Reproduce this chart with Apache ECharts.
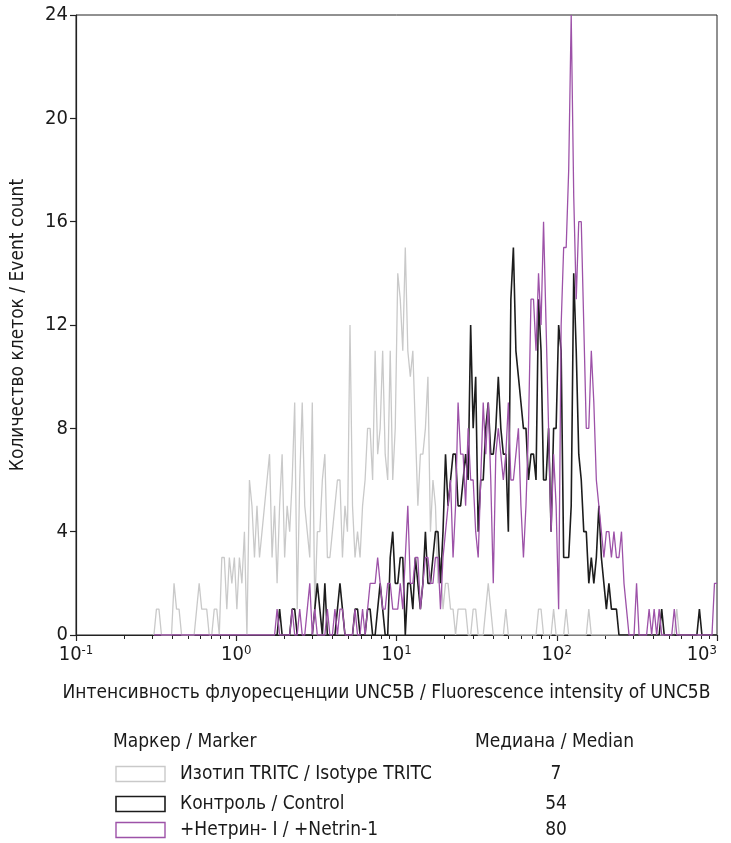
<!DOCTYPE html>
<html>
<head>
<meta charset="utf-8">
<script src="https://cdn.jsdelivr.net/npm/echarts@6/dist/echarts.min.js"></script>
<style>
  html, body { margin: 0; padding: 0; background: #fff; }
  #chart { width: 731px; height: 843px; }
</style>
</head>
<body>
<div id="chart"></div>
<script>
// Flow cytometry histograms of UNC5B staining: 256 log-spaced channels over 10^-1 .. 10^3.
const FONT = "'Liberation Sans Narrow', 'Arial Narrow', 'DejaVu Sans Condensed', sans-serif";

const channelCount = 256;
const decades = [0.1, 1, 10, 100, 1000];
const decadeExponents = ['-1', '0', '1', '2', '3'];
const minorMultipliers = [2, 3, 4, 5, 6, 7, 8, 9];
const yMax = 24;
const yStep = 4;

const seriesNames = ['Изотип TRITC / Isotype TRITC', 'Контроль / Control', '+Нетрин- I / +Netrin-1'];
const seriesColors = ['#c9c9c9', '#1c1c1c', '#9d52a8'];
const medians = [7, 54, 80];

// Event counts per channel; each list starts at its own first channel.
const isotypeStart = 31;
const isotypeCounts = [
  0,
  1, 1, 0, 0, 0, 0, 0, 2, 1, 1, 0, 0, 0, 0, 0, 0,
  1, 2, 1, 1, 1, 0, 0, 1, 1, 0, 3, 3, 1, 3, 2, 3,
  1, 3, 2, 4, 0, 6, 5, 3, 5, 3, 4, 5, 6, 7, 3, 5,
  2, 5, 7, 3, 5, 4, 6, 9, 1, 6, 9, 5, 4, 3, 9, 1,
  4, 4, 6, 7, 3, 3, 4, 5, 6, 6, 3, 5, 4, 12, 5, 3,
  4, 3, 5, 6, 8, 8, 6, 11, 7, 8, 11, 7, 6, 11, 6, 8,
  14, 13, 11, 15, 11, 10, 11, 8, 5, 7, 7, 8, 10, 4, 6, 5,
  2, 3, 1, 2, 2, 1, 1, 0, 1, 1, 1, 1, 0, 0, 1, 1,
  0, 0, 0, 1, 2, 1, 0, 0, 0, 0, 0, 1, 0, 0, 0, 0,
  0, 0, 0, 0, 0, 0, 0, 0, 1, 1, 0, 0, 0, 0, 1, 0,
  0, 0, 0, 1, 0, 0, 0, 0, 0, 0, 0, 0, 1, 0, 0, 0,
  0, 0, 0, 0, 0, 0, 0, 0, 0, 0, 0, 0, 0, 0, 0, 0,
  0, 0, 0, 0, 0, 0, 0, 0, 0, 0, 0, 0, 0, 0, 0, 1,
  0, 0, 0, 0, 0, 0, 0, 0, 0, 0, 0, 0, 0, 0, 0, 0
];

const controlStart = 79;
const controlCounts = [
  0,
  0, 1, 0, 0, 0, 0, 1, 1, 0, 0, 0, 0, 0, 0, 0, 1,
  2, 1, 0, 2, 0, 0, 0, 0, 1, 2, 1, 0, 0, 0, 0, 1,
  1, 0, 0, 0, 1, 1, 0, 0, 1, 2, 1, 0, 0, 3, 4, 2,
  2, 3, 3, 0, 2, 2, 1, 3, 2, 1, 2, 4, 2, 2, 3, 4,
  4, 2, 4, 7, 5, 6, 7, 7, 5, 5, 6, 7, 6, 12, 8, 10,
  4, 6, 6, 8, 9, 7, 7, 8, 10, 8, 7, 7, 4, 13, 15, 11,
  10, 9, 8, 8, 6, 7, 7, 6, 13, 11, 6, 6, 8, 4, 8, 8,
  12, 11, 3, 3, 3, 5, 14, 11, 7, 6, 4, 4, 2, 3, 2, 3,
  5, 3, 2, 1, 2, 1, 1, 1, 0, 0, 0, 0, 0, 0, 0, 0,
  0, 0, 0, 0, 0, 0, 0, 0, 0, 1, 0, 0, 0, 0, 0, 0,
  0, 0, 0, 0, 0, 0, 0, 0, 1, 0, 0, 0, 0, 0, 0, 0
];

const netrinStart = 31;
const netrinCounts = [
  0,
  0, 0, 0, 0, 0, 0, 0, 0, 0, 0, 0, 0, 0, 0, 0, 0,
  0, 0, 0, 0, 0, 0, 0, 0, 0, 0, 0, 0, 0, 0, 0, 0,
  0, 0, 0, 0, 0, 0, 0, 0, 0, 0, 0, 0, 0, 0, 0, 0,
  1, 0, 0, 0, 0, 0, 1, 0, 0, 1, 0, 0, 1, 2, 0, 1,
  0, 0, 0, 0, 1, 0, 0, 1, 0, 1, 1, 0, 0, 0, 0, 1,
  0, 0, 1, 0, 1, 2, 2, 2, 3, 2, 1, 1, 2, 2, 1, 1,
  1, 2, 1, 3, 5, 2, 2, 3, 3, 1, 2, 3, 3, 2, 2, 3,
  3, 1, 3, 4, 5, 6, 3, 5, 9, 7, 7, 5, 8, 6, 6, 4,
  3, 6, 9, 7, 9, 6, 2, 7, 8, 7, 6, 7, 9, 6, 6, 7,
  8, 5, 3, 5, 8, 13, 13, 11, 14, 12, 16, 12, 8, 4, 7, 5,
  1, 12, 15, 15, 18, 24, 17, 13, 16, 16, 12, 8, 8, 11, 9, 6,
  5, 4, 3, 4, 4, 3, 4, 3, 3, 4, 2, 1, 0, 0, 0, 2,
  0, 0, 0, 0, 1, 0, 1, 0, 1, 0, 0, 0, 0, 0, 1, 0,
  0, 0, 0, 0, 0, 0, 0, 0, 0, 0, 0, 0, 0, 0, 2, 2
];

// Channel index -> fluorescence intensity on the 4-decade log scale.
const lo = Math.log10(decades[0]);
const hi = Math.log10(decades[decades.length - 1]);
function channelValue(ch) {
  return Math.pow(10, lo + (hi - lo) * ch / (channelCount - 1));
}
function toPoints(start, counts) {
  return counts.map((c, k) => [channelValue(start + k), c]);
}

const minorTicks = [];
decades.slice(0, -1).forEach(d => minorMultipliers.forEach(m => minorTicks.push(d * m)));

const axisColor = '#222';
const chart = echarts.init(document.getElementById('chart'), null, { renderer: 'canvas' });

const superscriptLabel = v => {
  const i = decades.findIndex(d => Math.abs(d - v) / d < 1e-6);
  return i < 0 ? '' : '{b|10}{s|' + decadeExponents[i] + '}';
};

const grid = {
  left: 76, right: 14, top: 15, bottom: 208,
  outerBoundsMode: 'none', containLabel: false,
  show: true, borderColor: axisColor, borderWidth: 1, backgroundColor: 'transparent'
};

const legendTop = 744;
const rowY = [774, 804, 830];
const graphics = [
  { type: 'text', left: 113, top: legendTop - 11, style: { text: 'Маркер / Marker', font: '19px ' + FONT, fill: '#1a1a1a' } },
  { type: 'text', left: 475, top: legendTop - 11, style: { text: 'Медиана / Median', font: '19px ' + FONT, fill: '#1a1a1a' } }
];
seriesNames.forEach((name, i) => {
  graphics.push({ type: 'rect', shape: { x: 116, y: rowY[i] - 7.5, width: 49, height: 15 },
    style: { fill: '#fff', stroke: seriesColors[i], lineWidth: i === 1 ? 1.6 : 1.4 } });
  graphics.push({ type: 'text', x: 180, y: rowY[i], style: { text: name, font: '19px ' + FONT, fill: '#1a1a1a', verticalAlign: 'middle' } });
  graphics.push({ type: 'text', x: 556, y: rowY[i], style: { text: String(medians[i]), font: '19px ' + FONT, fill: '#1a1a1a', align: 'center', verticalAlign: 'middle' } });
});

chart.setOption({
  animation: false,
  backgroundColor: '#fff',
  grid: grid,
  xAxis: [
    {
      type: 'log', logBase: 10, min: decades[0], max: decades[decades.length - 1],
      position: 'bottom',
      name: 'Интенсивность флуоресценции UNC5B / Fluorescence intensity of UNC5B',
      nameLocation: 'middle', nameGap: 49,
      nameTextStyle: { fontFamily: FONT, fontSize: 19, color: '#1a1a1a', padding: [0, 20, 0, 0] },
      axisLine: { show: true, lineStyle: { color: axisColor, width: 1.2 } },
      axisTick: { show: true, inside: false, length: 6, customValues: decades, lineStyle: { color: axisColor, width: 1.2 } },
      axisLabel: {
        show: true, margin: 9, customValues: decades, formatter: superscriptLabel,
        alignMaxLabel: 'right',
        rich: {
          b: { fontFamily: FONT, fontSize: 20, color: '#1a1a1a', lineHeight: 22 },
          s: { fontFamily: FONT, fontSize: 13, color: '#1a1a1a', lineHeight: 13, verticalAlign: 'top' }
        }
      },
      splitLine: { show: false }
    },
    {
      type: 'log', logBase: 10, min: decades[0], max: decades[decades.length - 1],
      position: 'bottom',
      axisLine: { show: false },
      axisTick: { show: true, inside: false, length: 4, customValues: minorTicks, lineStyle: { color: axisColor, width: 1 } },
      axisLabel: { show: false },
      splitLine: { show: false }
    }
  ],
  yAxis: {
    type: 'value', min: 0, max: yMax, interval: yStep,
    name: 'Количество клеток / Event count',
    nameLocation: 'middle', nameGap: 48,
    nameTextStyle: { fontFamily: FONT, fontSize: 19, color: '#1a1a1a' },
    axisLine: { show: true, lineStyle: { color: axisColor, width: 1.2 } },
    axisTick: { show: true, inside: false, length: 6, lineStyle: { color: axisColor, width: 1.2 } },
    axisLabel: { margin: 8, fontFamily: FONT, fontSize: 20, color: '#1a1a1a' },
    splitLine: { show: false }
  },
  series: [
    { name: seriesNames[0], type: 'line', xAxisIndex: 0, data: toPoints(isotypeStart, isotypeCounts), showSymbol: false, symbol: 'none',
      lineStyle: { color: seriesColors[0], width: 1.3 }, itemStyle: { color: seriesColors[0] }, z: 2 },
    { name: seriesNames[1], type: 'line', xAxisIndex: 0, data: toPoints(controlStart, controlCounts), showSymbol: false, symbol: 'none',
      lineStyle: { color: seriesColors[1], width: 1.6 }, itemStyle: { color: seriesColors[1] }, z: 3 },
    { name: seriesNames[2], type: 'line', xAxisIndex: 0, data: toPoints(netrinStart, netrinCounts), showSymbol: false, symbol: 'none',
      lineStyle: { color: seriesColors[2], width: 1.3 }, itemStyle: { color: seriesColors[2] }, z: 4 }
  ],
  graphic: graphics
});
</script>
</body>
</html>
